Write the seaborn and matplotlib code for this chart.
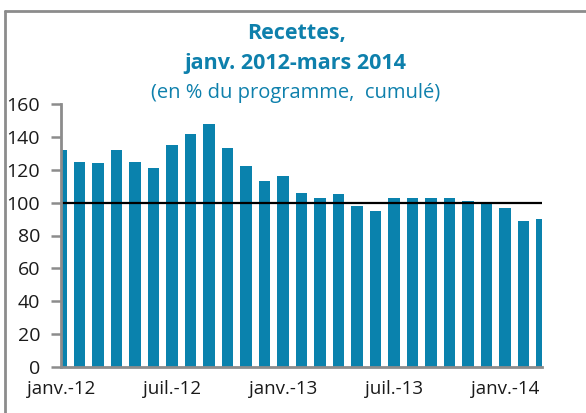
import matplotlib
matplotlib.use("Agg")
import matplotlib.pyplot as plt
from matplotlib.lines import Line2D
from matplotlib.ticker import FixedLocator
import seaborn as sns
import pandas as pd

months = ["janv.-12", "févr.-12", "mars-12", "avr.-12", "mai-12", "juin-12",
          "juil.-12", "août-12", "sept.-12", "oct.-12", "nov.-12", "déc.-12",
          "janv.-13", "févr.-13", "mars-13", "avr.-13", "mai-13", "juin-13",
          "juil.-13", "août-13", "sept.-13", "oct.-13", "nov.-13", "déc.-13",
          "janv.-14", "févr.-14", "mars-14"]
values = [132, 125, 124, 132, 125, 121, 135, 142, 148, 133, 122, 113,
          116, 106, 103, 105, 98, 95, 103, 103, 103, 103, 101, 99,
          97, 89, 90]
tick_labels = ["janv.-12", "juil.-12", "janv.-13", "juil.-13", "janv.-14"]
y_ticks = [0, 20, 40, 60, 80, 100, 120, 140, 160]

sns.set_theme(style="white")
plt.rcParams['font.family'] = ['Open Sans', 'DejaVu Sans']

BLUE = "#0A82AD"
TITLE_BLUE = "#0E80AC"
GRAY = "#8C8C8C"

df = pd.DataFrame({"mois": months, "val": values})

fig = plt.figure(figsize=(5.86, 4.13), dpi=100)
ax = fig.add_axes([61/586, 1-367/413, (542-61)/586, (367-104)/413])

sns.barplot(data=df, x="mois", y="val", color=BLUE, width=0.62, ax=ax,
            saturation=1, edgecolor="none")
ax.axhline(100, color="black", lw=1.6, zorder=3)

ax.set_xlim(0, len(months) - 1)
ax.set_ylim(0, 160)
ax.set_xlabel("")
ax.set_ylabel("")

major = [months.index(t) for t in tick_labels]
ax.xaxis.set_major_locator(FixedLocator(major))
ax.set_xticklabels(tick_labels)
ax.xaxis.set_minor_locator(FixedLocator([3, 9, 15, 21]))
ax.tick_params(axis="x", which="major", direction="in", length=8, width=1.8,
               color=GRAY, labelsize=13.5, pad=9, labelcolor="#1a1a1a")
ax.tick_params(axis="x", which="minor", direction="in", length=6, width=1.8,
               color=GRAY, bottom=True)
ax.set_yticks(y_ticks)
ax.tick_params(axis="y", direction="out", length=7, width=1.8, color=GRAY,
               labelsize=14, pad=8, left=True, labelcolor="#1a1a1a")

for s in ["top", "right"]:
    ax.spines[s].set_visible(False)
for s in ["left", "bottom"]:
    ax.spines[s].set_color(GRAY)
    ax.spines[s].set_linewidth(2)
ax.spines["left"].set_zorder(4)

fig.text(297/586, 1-33/413, "Recettes,", ha="center", va="center",
         fontsize=15.5, fontweight="bold", color=TITLE_BLUE)
fig.text(295/586, 1-63/413, "janv. 2012-mars 2014", ha="center", va="center",
         fontsize=15.5, fontweight="bold", color=TITLE_BLUE)
fig.text(296/586, 1-93/413, "(en % du programme,  cumulé)", ha="center",
         va="center", fontsize=14.5, color=TITLE_BLUE)

fig.add_artist(Line2D([5/586, 5/586], [0, 1-11/413], color=GRAY, lw=2,
                      transform=fig.transFigure))
fig.add_artist(Line2D([5/586, 1], [1-11/413, 1-11/413], color=GRAY, lw=2,
                      transform=fig.transFigure))

fig.savefig("out.png", dpi=100)
